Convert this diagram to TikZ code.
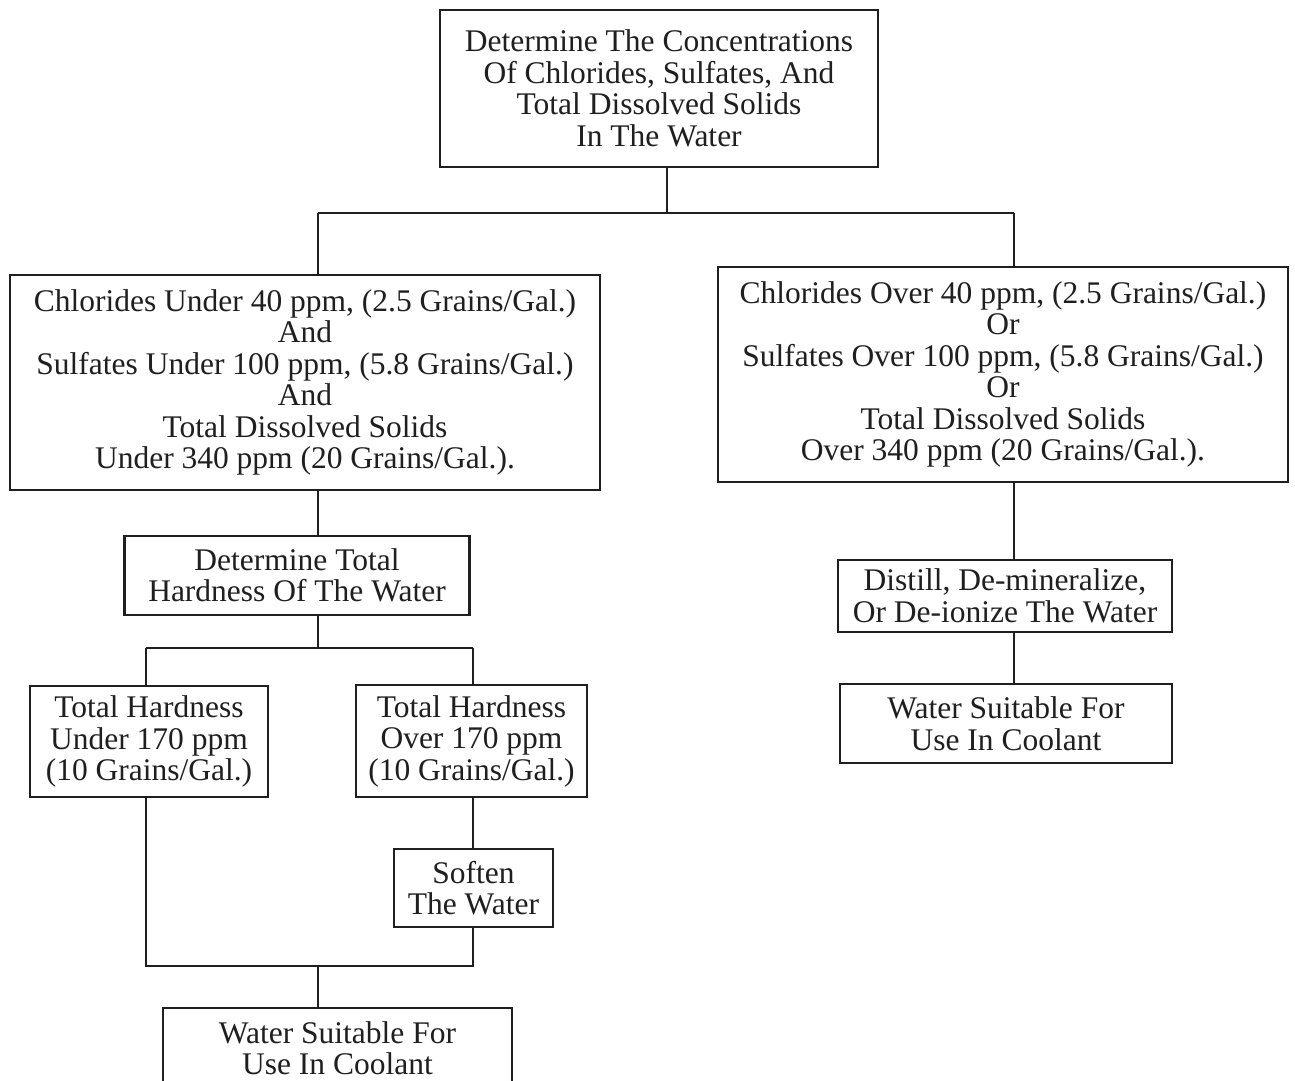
\documentclass[tikz,border=0pt]{standalone}
\usepackage{fontspec}
\setmainfont{Liberation Serif}
\begin{document}
\begin{tikzpicture}[x=1pt,y=-1pt,
  box/.style={draw=black!88, line width=2.2pt, inner sep=0pt, align=center, font=\fontsize{31.5}{31.5}\selectfont, text=black!88},
  conn/.style={draw=black!88, line width=2.2pt}]
\clip (0,0) rectangle (1295,1080);
\fill[white] (0,0) rectangle (1295,1080);
% boxes
\node[box, minimum width=438pt, minimum height=157pt] (top) at (659,88.5)
  {Determine The Concentrations\\Of Chlorides, Sulfates, And\\Total Dissolved Solids\\In The Water};
\node[box, minimum width=590pt, minimum height=215pt] (left) at (305,382.5)
  {Chlorides Under 40 ppm, (2.5 Grains/Gal.)\\And\\Sulfates Under 100 ppm, (5.8 Grains/Gal.)\\And\\Total Dissolved Solids\\Under 340 ppm (20 Grains/Gal.).};
\node[box, minimum width=570pt, minimum height=215pt] (right) at (1003,374.5)
  {Chlorides Over 40 ppm, (2.5 Grains/Gal.)\\Or\\Sulfates Over 100 ppm, (5.8 Grains/Gal.)\\Or\\Total Dissolved Solids\\Over 340 ppm (20 Grains/Gal.).};
\node[box, minimum width=345pt, minimum height=79pt] (hard) at (297,575.5)
  {Determine Total\\Hardness Of The Water};
\node[box, minimum width=238pt, minimum height=111pt] (under) at (149,741.5)
  {Total Hardness\\Under 170 ppm\\(10 Grains/Gal.)};
\node[box, minimum width=231pt, minimum height=112pt] (over) at (471.5,741)
  {Total Hardness\\Over 170 ppm\\(10 Grains/Gal.)};
\node[box, minimum width=159pt, minimum height=78pt] (soft) at (473.5,888)
  {Soften\\The Water};
\node[box, minimum width=349pt, minimum height=80pt] (wsl) at (337.5,1048)
  {Water Suitable For\\Use In Coolant};
\node[box, minimum width=334pt, minimum height=72pt] (dist) at (1005,596)
  {Distill, De-mineralize,\\Or De-ionize The Water};
\node[box, minimum width=332pt, minimum height=79pt] (wsr) at (1006,723.5)
  {Water Suitable For\\Use In Coolant};
% junctions
\coordinate (j0) at (667,213);
\coordinate (jL) at (318,213);
\coordinate (jR) at (1014,213);
\coordinate (k0) at (318,648);
\coordinate (kL) at (146,648);
\coordinate (kR) at (473,648);
\coordinate (m0) at (318,966);
\coordinate (mL) at (146,966);
\coordinate (mR) at (473,966);
% connectors
\draw[conn] (top.south -| j0) -- (j0);
\draw[conn] (jL) -- (jR);
\draw[conn] (jL) -- (left.north -| jL);
\draw[conn] (jR) -- (right.north -| jR);
\draw[conn] (left.south -| jL) -- (hard.north -| jL);
\draw[conn] (right.south -| jR) -- (dist.north -| jR);
\draw[conn] (dist.south -| jR) -- (wsr.north -| jR);
\draw[conn] (hard.south -| k0) -- (k0);
\draw[conn] (kL) -- (kR);
\draw[conn] (kL) -- (under.north -| kL);
\draw[conn] (kR) -- (over.north -| kR);
\draw[conn] (under.south -| mL) -- (mL) -- (mR) -- (soft.south -| mR);
\draw[conn] (over.south -| kR) -- (soft.north -| kR);
\draw[conn] (m0) -- (wsl.north -| m0);
\end{tikzpicture}
\end{document}
